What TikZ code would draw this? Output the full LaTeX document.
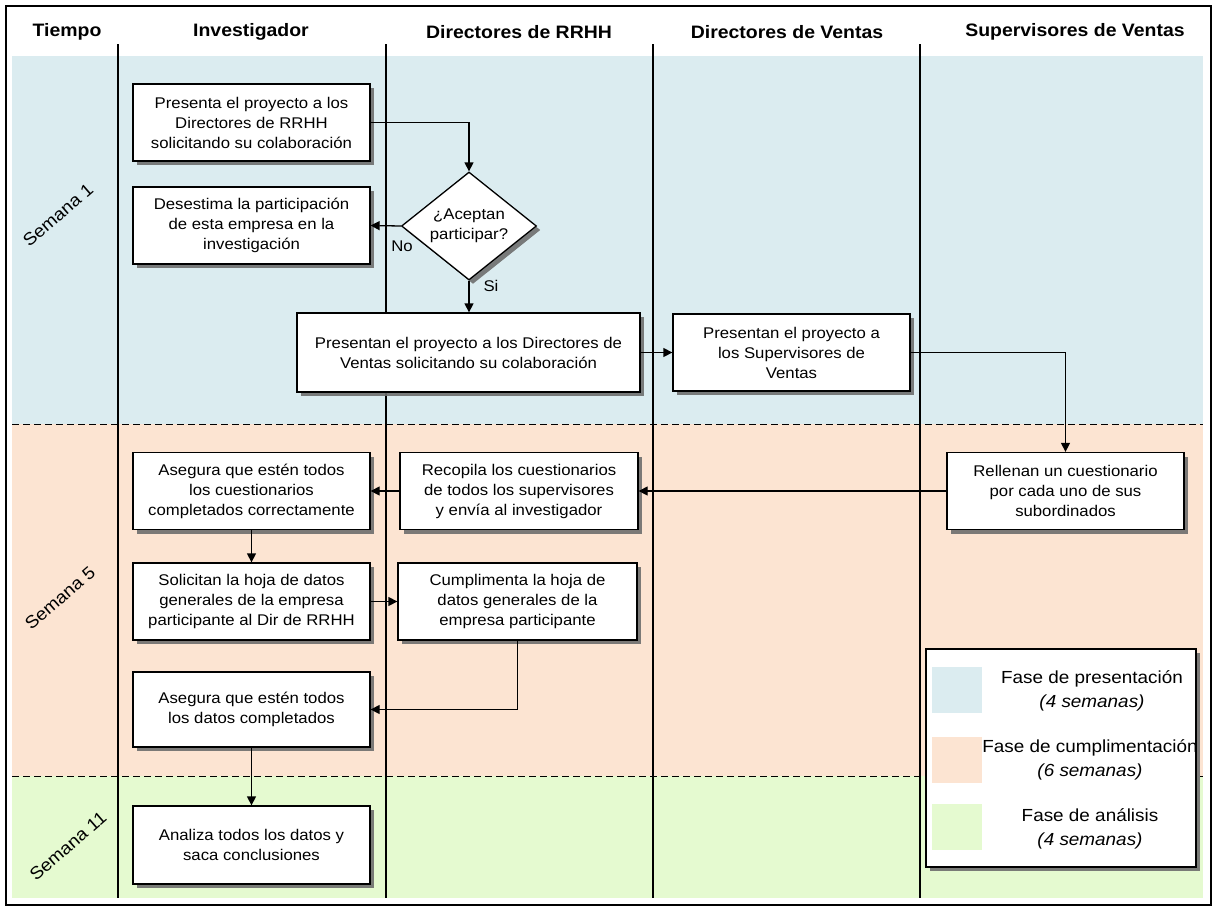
\documentclass[tikz,border=0pt]{standalone}
\usepackage{fontspec}
\setmainfont{Liberation Sans}[FakeStretch=1.08]
\usetikzlibrary{arrows.meta,shapes.geometric,shadows}

\definecolor{fasePres}{RGB}{219,236,240}
\definecolor{faseCump}{RGB}{252,228,210}
\definecolor{faseAnal}{RGB}{229,250,208}
\definecolor{grisSombra}{RGB}{110,110,110}

\tikzset{every picture/.style={line width=0.75pt}}
\tikzset{
  sombra/.style={drop shadow={shadow xshift=4pt,shadow yshift=-4pt,fill=grisSombra,opacity=0.9}},
  paso/.style={draw, fill=white, line width=1.3pt, minimum width=237pt, minimum height=77pt,
    align=center, inner sep=2pt, font=\fontsize{15.5}{20}\selectfont, sombra},
  decision/.style={diamond, draw, fill=white, line width=1.3pt, aspect=1.25, inner sep=0pt,
    minimum width=135pt, minimum height=108pt, align=center, font=\fontsize{15.5}{20}\selectfont, sombra},
  flecha/.style={line width=1.3pt, -{Triangle[length=9pt,width=9pt]}},
  carril/.style={line width=1.3pt},
  limite/.style={line width=1pt, dash pattern=on 7pt off 4pt},
  cabecera/.style={font=\bfseries\fontsize{18}{20}\selectfont},
  semana/.style={font=\fontsize{17.5}{20}\selectfont, rotate=41},
  etiqueta/.style={font=\fontsize{15.5}{18}\selectfont, inner sep=0pt},
  muestra/.style={minimum width=50pt, minimum height=46pt, inner sep=0pt},
  leyendatxt/.style={align=center, inner sep=0pt, font=\fontsize{17.5}{24}\selectfont}
}

\begin{document}
\begin{tikzpicture}[x=1pt,y=1pt,yscale=-1]
    \useasboundingbox (0,0) rectangle (1216,908);

    %Shape: Phases
    \fill[fasePres] (12,56) rectangle (1203,424);
    \fill[faseCump] (12,424) rectangle (1203,776);
    \fill[faseAnal] (12,776) rectangle (1203,898);
    \draw[limite] (12,424) -- (1203,424);
    \draw[limite] (12,776) -- (1203,776);

    %Shape: Frame
    \draw[line width=1.2pt] (6,6) rectangle (1211,905);

    %Straight Lines: Lanes
    \draw[carril] (118,44) -- (118,898);
    \draw[carril] (386,44) -- (386,898);
    \draw[carril] (653,44) -- (653,898);
    \draw[carril] (920,44) -- (920,898);

    % Text Node: headers
    \node[cabecera] (hTiempo) at (67,32) {Tiempo};
    \node[cabecera] (hInvest) at (251,32) {Investigador};
    \node[cabecera] (hRRHH) at (519,32) {Directores de RRHH};
    \node[cabecera] (hVentas) at (787,32) {Directores de Ventas};
    \node[cabecera] (hSuperv) at (1075,32) {Supervisores de Ventas};

    % Text Node: weeks
    \node[semana] (sem1) at (58,215) {Semana 1};
    \node[semana] (sem5) at (60,598) {Semana 5};
    \node[semana] (sem11) at (68,846) {Semana 11};

    %Shape: Steps
    \node[paso] (pres) at (251.5,122.5) {Presenta el proyecto a los\\Directores de RRHH\\solicitando su colaboración};
    \node[paso] (desest) at (251.5,225.5) {Desestima la participación\\de esta empresa en la\\investigación};
    \node[decision] (acepta) at (469,226) {¿Aceptan\\participar?};
    \node[paso, minimum width=343pt, minimum height=79pt] (presV) at (468.5,352.5) {Presentan el proyecto a los Directores de\\Ventas solicitando su colaboración};
    \node[paso] (presS) at (791.5,352.5) {Presentan el proyecto a\\los Supervisores de\\Ventas};
    \node[paso] (rellenan) at (1065.5,491) {Rellenan un cuestionario\\por cada uno de sus\\subordinados};
    \node[paso, minimum width=238pt] (recopila) at (519,491) {Recopila los cuestionarios\\de todos los supervisores\\y envía al investigador};
    \node[paso] (asegura) at (251.5,491) {Asegura que estén todos\\los cuestionarios\\completados correctamente};
    \node[paso] (solicita) at (251.5,601.5) {Solicitan la hoja de datos\\generales de la empresa\\participante al Dir de RRHH};
    \node[paso, minimum width=239pt] (cumple) at (517.5,601.5) {Cumplimenta la hoja de\\datos generales de la\\empresa participante};
    \node[paso, minimum height=75pt] (aseguraD) at (251.5,709.5) {Asegura que estén todos\\los datos completados};
    \node[paso, minimum height=78pt] (analiza) at (251.5,845) {Analiza todos los datos y\\saca conclusiones};

    %Straight Lines: Flow
    \draw[flecha] (pres.east) -| (acepta.north);
    \draw[flecha] (acepta.west) -- (desest.east);
    \draw[flecha] (acepta.south) -- (acepta.south |- presV.north);
    \draw[flecha] (presV.east) -- (presS.west);
    \draw[flecha] (presS.east) -| (rellenan.north);
    \draw[flecha] (rellenan.west) -- (recopila.east);
    \draw[flecha] (recopila.west) -- (asegura.east);
    \draw[flecha] (asegura.south) -- (solicita.north);
    \draw[flecha] (solicita.east) -- (cumple.west);
    \draw[flecha] (cumple.south) |- (aseguraD.east);
    \draw[flecha] (aseguraD.south) -- (analiza.north);

    % Text Node: answers
    \node[etiqueta] (lNo) at (402,246) {No};
    \node[etiqueta] (lSi) at (491,286) {Si};

    %Shape: Legend
    \node[draw, fill=white, line width=1.3pt, minimum width=270pt, minimum height=218pt, sombra] (leyenda) at (1061,758) {};
    \node[muestra, fill=fasePres] (mPres) at (957,690) {};
    \node[muestra, fill=faseCump] (mCump) at (957,759.5) {};
    \node[muestra, fill=faseAnal] (mAnal) at (957,826.5) {};
    \node[leyendatxt] (tPres) at (1092,691) {Fase de presentación\\\textit{(4 semanas)}};
    \node[leyendatxt] (tCump) at (1090,760) {Fase de cumplimentación\\\textit{(6 semanas)}};
    \node[leyendatxt] (tAnal) at (1090,828.5) {Fase de análisis\\\textit{(4 semanas)}};

\end{tikzpicture}
\end{document}
